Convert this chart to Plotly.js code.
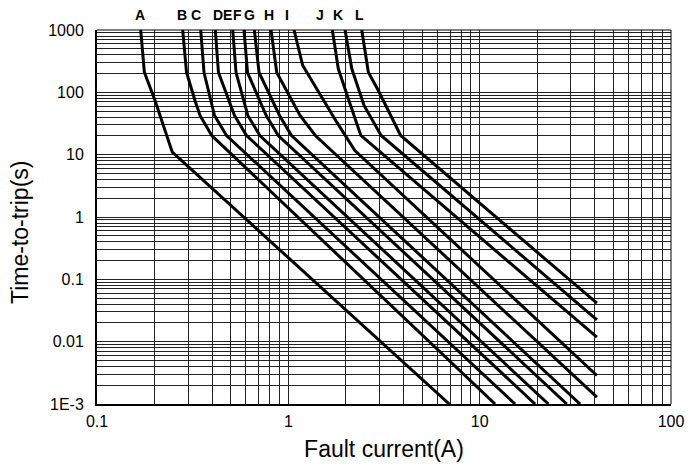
<!DOCTYPE html>
<html>
<head>
<meta charset="utf-8">
<script src="https://cdn.plot.ly/plotly-3.0.1.min.js"></script>
<style>
  html, body { margin: 0; padding: 0; background: #fff; }
  #chart { width: 694px; height: 470px; }
</style>
</head>
<body>
<div id="chart"></div>
<script>
// ---- data (fault current in A, time-to-trip in s) ----
const curveNames = ['A','B','C','D','E','F','G','H','I','J','K','L'];

const currentA = [0.1692, 0.1768, 0.2011, 0.2475, 6.94];
const timeA    = [1000, 210, 74, 10.95, 0.001];
const currentB = [0.2805, 0.2937, 0.3252, 0.3455, 0.3978, 12.04];
const timeB    = [1000, 208, 73.9, 42.5, 20.3, 0.001];
const currentC = [0.3484, 0.3625, 0.4113, 0.4753, 15.31];
const timeC    = [1000, 208, 42.5, 20.3, 0.001];
const currentD = [0.4153, 0.4314, 0.5234, 0.6047, 19.48];
const timeD    = [1000, 208, 42.5, 20.3, 0.001];
const currentE = [0.5122, 0.5329, 0.6142, 0.7096, 22.86];
const timeE    = [1000, 208, 42.5, 20.3, 0.001];
const currentF = [0.5867, 0.6119, 0.7664, 0.8857, 28.53];
const timeF    = [1000, 208, 42.5, 20.3, 0.001];
const currentG = [0.6645, 0.7029, 0.8995, 1.039, 33.48];
const timeG    = [1000, 208, 42.5, 20.3, 0.001];
const currentH = [0.8121, 0.8699, 1.151, 1.384, 41];
const timeH    = [1000, 208, 42.5, 20.3, 0.001285];
const currentI = [1.071, 1.189, 1.791, 2.227, 41];
const timeI    = [1000, 269.5, 33.2, 11.66, 0.002864];
const currentJ = [1.698, 1.825, 2.101, 2.393, 41];
const timeJ    = [1000, 238.5, 65.5, 20.3, 0.01178];
const currentK = [1.979, 2.145, 2.487, 3.055, 41];
const timeK    = [1000, 241, 61.5, 20.3, 0.02243];
const currentL = [2.419, 2.619, 2.954, 3.864, 41];
const timeL    = [1000, 210.4, 107, 20.3, 0.0414];

// label positions along the current axis for the curve letters
const labelCurrent = [0.1678, 0.2772, 0.3292, 0.4276, 0.4823, 0.5438, 0.6253, 0.7925, 0.981, 1.464, 1.825, 2.35];

// axis ticks
const xMajor = [0.1, 1, 10, 100];
const xMajorText = ['0.1', '1', '10', '100'];
const yMajor = [0.001, 0.01, 0.1, 1, 10, 100, 1000];
const yMajorText = ['1E-3', '0.01', '0.1', '1', '10', '100', '1000'];
const minorMult = [2, 3, 4, 5, 6, 7, 8, 9];

// ---- build ----
const currents = [currentA, currentB, currentC, currentD, currentE, currentF, currentG, currentH, currentI, currentJ, currentK, currentL];
const times    = [timeA, timeB, timeC, timeD, timeE, timeF, timeG, timeH, timeI, timeJ, timeK, timeL];

function buildTicks(majors, majorText) {
  const vals = [], text = [];
  majors.forEach((m, i) => {
    vals.push(m); text.push(majorText[i]);
    if (i < majors.length - 1) {
      minorMult.forEach(k => { vals.push(m * k); text.push(''); });
    }
  });
  return { vals, text };
}
const xt = buildTicks(xMajor, xMajorText);
const yt = buildTicks(yMajor, yMajorText);

const FONT = 'Liberation Sans, Arial, Helvetica, sans-serif';

const traces = curveNames.map((n, i) => ({
  type: 'scatter', mode: 'lines', name: n,
  x: currents[i], y: times[i],
  line: { color: '#000', width: 3 },
  showlegend: false, hoverinfo: 'skip'
}));

const annotations = curveNames.map((n, i) => ({
  text: '<b>' + n + '</b>', x: Math.log10(labelCurrent[i]), xref: 'x',
  y: 1.041, yref: 'paper', yanchor: 'middle', xanchor: 'center',
  showarrow: false, font: { family: FONT, size: 14, color: '#000' }
}));
annotations.push({
  text: 'Time-to-trip(s)', textangle: -90,
  x: -0.134, xref: 'paper', xanchor: 'center',
  y: 0.46, yref: 'paper', yanchor: 'middle',
  showarrow: false, font: { family: FONT, size: 23, color: '#000' }
});

const layout = {
  width: 694, height: 470,
  margin: { l: 97, r: 23, t: 30, b: 66, pad: 0 },
  paper_bgcolor: '#fff', plot_bgcolor: '#fff',
  font: { family: FONT, color: '#000' },
  xaxis: {
    type: 'log', range: [-1, 2], autorange: false,
    tickmode: 'array', tickvals: xt.vals, ticktext: xt.text,
    showgrid: true, gridcolor: '#222', gridwidth: 1,
    zeroline: false, ticks: '', ticklabelstandoff: 2,
    showline: true, linecolor: '#000', linewidth: 2,
    tickfont: { family: FONT, size: 16, color: '#000' },
    title: { text: 'Fault current(A)', font: { family: FONT, size: 23, color: '#000' }, standoff: 12 }
  },
  yaxis: {
    type: 'log', range: [-3, 3], autorange: false,
    tickmode: 'array', tickvals: yt.vals, ticktext: yt.text,
    showgrid: true, gridcolor: '#222', gridwidth: 1,
    zeroline: false, ticks: '', ticklabelstandoff: 8,
    showline: true, linecolor: '#000', linewidth: 2,
    tickfont: { family: FONT, size: 16, color: '#000' }
  },
  shapes: [
    { type: 'line', xref: 'paper', yref: 'paper', x0: 0, x1: 1, y0: 1, y1: 1, line: { color: '#000', width: 1 } },
    { type: 'line', xref: 'paper', yref: 'paper', x0: 1, x1: 1, y0: 0, y1: 1, line: { color: '#000', width: 1 } }
  ],
  annotations: annotations
};

Plotly.newPlot('chart', traces, layout, { staticPlot: true, displayModeBar: false });
</script>
</body>
</html>
